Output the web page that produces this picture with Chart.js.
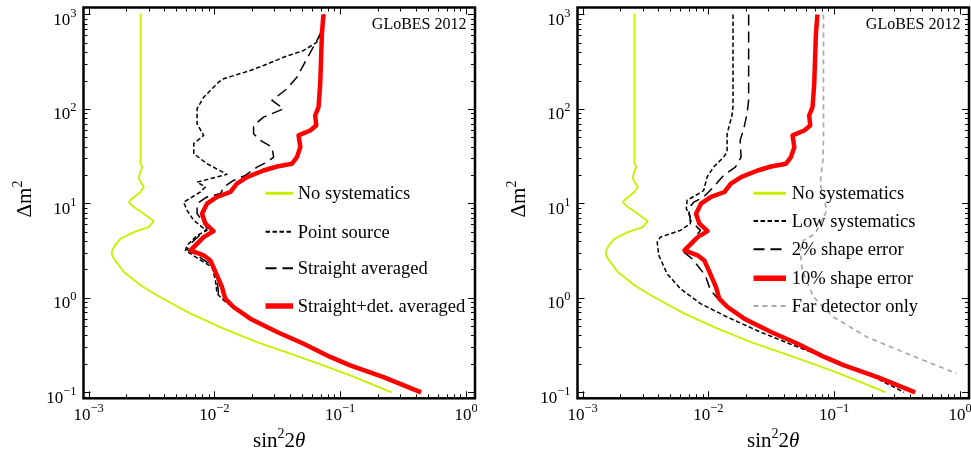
<!DOCTYPE html>
<html>
<head>
<meta charset="utf-8">
<script src="https://cdn.jsdelivr.net/npm/chart.js@4.4.0/dist/chart.umd.min.js"></script>
<style>
  html, body { margin: 0; padding: 0; background: #fff; }
  #wrap { position: relative; width: 971px; height: 454px; overflow: hidden; }
  canvas { position: absolute; top: 0; }
</style>
</head>
<body>
<div id="wrap">
  <canvas id="leftChart" width="477" height="454" style="left:0"></canvas>
  <canvas id="rightChart" width="477" height="454" style="left:494px"></canvas>
</div>
<script>
// --- data (Δm² values with matching sin²2θ values) ---
const noSysDm2 = [1000, 26.5, 24.2, 20.6, 18.2, 14.9, 13.2, 10.8, 10.3, 9.14, 7.78, 6.49, 5.61, 4.97, 4.23, 3.6, 3.18, 2.9, 2.60, 1.88, 1.36, 1.06, 0.681, 0.472, 0.340, 0.257, 0.193, 0.151, 0.1];
const noSysSin2 = [0.00259, 0.00259, 0.00267, 0.00255, 0.00251, 0.00275, 0.00259, 0.00215, 0.00209, 0.00229, 0.00275, 0.0033, 0.00301, 0.00229, 0.0018, 0.00162, 0.00154, 0.00153, 0.00159, 0.00191, 0.00259, 0.00351, 0.00646, 0.01186, 0.0218, 0.0401, 0.0736, 0.12, 0.257];

const redDm2 = [1000, 625, 185, 104.5, 85.3, 66.9, 59.2, 52.5, 39.4, 30.9, 26.3, 24.6, 22.3, 19.0, 16.2, 13.2, 11.7, 9.93, 7.78, 6.10, 5.09, 4.40, 3.18, 2.82, 2.49, 1.88, 1.30, 0.98, 0.80, 0.602, 0.435, 0.327, 0.237, 0.193, 0.145, 0.1];
const redSin2 = [0.0736, 0.0716, 0.0694, 0.0673, 0.0633, 0.0645, 0.0578, 0.0467, 0.0482, 0.0453, 0.0414, 0.0315, 0.0246, 0.0182, 0.0151, 0.0134, 0.0105, 0.00874, 0.00798, 0.00849, 0.00986, 0.00822, 0.00646, 0.00822, 0.00929, 0.0102, 0.0115, 0.0122, 0.0142, 0.0193, 0.0315, 0.0512, 0.0834, 0.12, 0.221, 0.44];

const pointDm2 = [1000, 678, 509, 416, 353, 288, 255, 209, 192, 133, 100.5, 69.7, 52.5, 42.9, 33.6, 26.3, 20.3, 16.8, 14.9, 13.2, 10.3, 8.44, 6.61, 5.61, 5.18, 4.58, 3.60, 3.18, 2.94, 2.39, 2.12, 1.53, 1.11, 0.942, 0.738, 0.627, 0.435, 0.327, 0.237, 0.193, 0.145, 0.1];
const pointSin2 = [0.0755, 0.0716, 0.0653, 0.0512, 0.0355, 0.0246, 0.0193, 0.01186, 0.0108, 0.00822, 0.00729, 0.00729, 0.00822, 0.00686, 0.00686, 0.00874, 0.0126, 0.00729, 0.00849, 0.00774, 0.0057, 0.00607, 0.00686, 0.00798, 0.00874, 0.00729, 0.00607, 0.00589, 0.00646, 0.00822, 0.0096, 0.0102, 0.0105, 0.01186, 0.0151, 0.0187, 0.031, 0.0505, 0.082, 0.118, 0.218, 0.435];

const straightDm2 = [1000, 625, 531, 340, 217, 164, 123, 100.5, 81.9, 66.8, 54.6, 46.5, 39.4, 30.9, 27.4, 24.2, 19.8, 17.5, 14.9, 12.7, 11.7, 9.93, 7.78, 6.34, 5.40, 3.75, 3.24, 2.82, 2.39, 2.04, 1.53, 1.11, 0.904, 0.708, 0.602, 0.435, 0.327, 0.237, 0.193, 0.145, 0.1];
const straightSin2 = [0.0745, 0.0694, 0.0653, 0.0544, 0.0453, 0.0378, 0.0287, 0.0355, 0.0246, 0.0205, 0.0205, 0.0232, 0.0287, 0.0296, 0.0262, 0.0218, 0.0176, 0.0142, 0.01186, 0.0112, 0.00874, 0.00729, 0.00729, 0.00822, 0.00874, 0.00646, 0.00607, 0.00729, 0.00874, 0.0102, 0.0105, 0.0108, 0.0126, 0.0161, 0.019, 0.031, 0.051, 0.083, 0.119, 0.22, 0.44];

const lowDm2 = [1000, 104.5, 85.3, 54.6, 34.9, 30.9, 24.2, 19.0, 13.7, 12.7, 10.8, 8.79, 7.16, 6.10, 5.18, 4.40, 3.89, 2.82, 1.80, 1.25, 0.869, 0.627, 0.435, 0.314, 0.218, 0.158, 0.1];
const lowSin2 = [0.0157, 0.0157, 0.0154, 0.0141, 0.0141, 0.0132, 0.011, 0.00977, 0.00918, 0.00838, 0.00678, 0.00668, 0.00719, 0.00719, 0.006, 0.00416, 0.00392, 0.00404, 0.0047, 0.006, 0.00865, 0.0141, 0.0259, 0.0475, 0.0986, 0.182, 0.36];

const shapeDm2 = [1000, 123, 88.9, 61.7, 46.5, 30.9, 24.2, 19.8, 14.9, 11.7, 10.3, 8.79, 6.61, 5.18, 3.05, 2.60, 2.12, 1.73, 1.20, 0.98, 0.80, 0.602, 0.435, 0.327, 0.237, 0.193, 0.145, 0.1];
const shapeSin2 = [0.0209, 0.0209, 0.0203, 0.0191, 0.0179, 0.0182, 0.0164, 0.0132, 0.011, 0.00918, 0.00764, 0.00698, 0.00719, 0.00865, 0.00637, 0.00741, 0.00838, 0.00946, 0.0104, 0.0119, 0.0139, 0.019, 0.031, 0.0505, 0.082, 0.118, 0.215, 0.43];

const farDm2 = [1000, 46.5, 28.5, 16.1, 8.44, 4.78, 4.06, 3.18, 1.95, 1.02, 0.627, 0.385, 0.257, 0.158];
const farSin2 = [0.0822, 0.0822, 0.0813, 0.0774, 0.0875, 0.0706, 0.057, 0.0537, 0.0557, 0.0686, 0.0986, 0.182, 0.378, 0.942];

// axis decades (tick labels are 10^n)
const xDecades = [-3, -2, -1, 0];
const yDecades = [-1, 0, 1, 2, 3];
const xRange = [9.12e-4, 1.179];
const yRange = [0.0864, 1186];

const GREEN = "#c6f000";
const RED = "#ff0000";
const GRAY = "#a9a9a9";
const SERIF = '"Liberation Serif", "Times New Roman", serif';

function pts(sin2, dm2) {
    return sin2.map((v, i) => ({ x: v, y: dm2[i] }));
}

function expText(n) {
    return n < 0 ? "\u2212" + Math.abs(n) : String(n);
}

// "10" with a raised exponent
function drawPow(ctx, x, y, n, align) {
    ctx.font = "17px " + SERIF;
    const wBase = ctx.measureText("10").width;
    ctx.font = "12.5px " + SERIF;
    const e = expText(n);
    const wExp = ctx.measureText(e).width;
    const total = wBase + wExp;
    const x0 = align === "right" ? x - total : x - total / 2;
    ctx.textAlign = "left";
    ctx.textBaseline = "alphabetic";
    ctx.font = "17px " + SERIF;
    ctx.fillText("10", x0, y);
    ctx.font = "12.5px " + SERIF;
    ctx.fillText(e, x0 + wBase, y - 8);
}

const framePlugin = {
    id: "frameAxes",
    afterDatasetsDraw(chart) {
        const { ctx, chartArea: a, scales } = chart;
        const sx = scales.x, sy = scales.y;
        ctx.save();
        ctx.strokeStyle = "#000";
        ctx.fillStyle = "#000";
        ctx.lineWidth = 1;

        // ticks on all four sides, pointing inward
        ctx.beginPath();
        for (let d = xDecades[0] - 1; d <= xDecades[xDecades.length - 1]; d++) {
            for (let k = 1; k <= 9; k++) {
                const v = k * Math.pow(10, d);
                if (v < sx.min || v > sx.max) continue;
                const p = Math.round(sx.getPixelForValue(v)) + 0.5;
                const len = k === 1 ? 7 : 4;
                ctx.moveTo(p, a.bottom); ctx.lineTo(p, a.bottom - len);
                ctx.moveTo(p, a.top); ctx.lineTo(p, a.top + len);
            }
        }
        for (let d = yDecades[0] - 1; d <= yDecades[yDecades.length - 1]; d++) {
            for (let k = 1; k <= 9; k++) {
                const v = k * Math.pow(10, d);
                if (v < sy.min || v > sy.max) continue;
                const p = Math.round(sy.getPixelForValue(v)) + 0.5;
                const len = k === 1 ? 7 : 4;
                ctx.moveTo(a.left, p); ctx.lineTo(a.left + len, p);
                ctx.moveTo(a.right, p); ctx.lineTo(a.right - len, p);
            }
        }
        ctx.stroke();

        ctx.lineWidth = 2.5;
        ctx.strokeRect(a.left, a.top, a.right - a.left, a.bottom - a.top);

        // tick labels
        xDecades.forEach(n => drawPow(ctx, sx.getPixelForValue(Math.pow(10, n)), a.bottom + 22, n, "center"));
        yDecades.forEach(n => drawPow(ctx, a.left - 7, sy.getPixelForValue(Math.pow(10, n)) + 10.5, n, "right"));

        // x title: sin²2θ
        const big = "21px " + SERIF, small = "14px " + SERIF, ital = "italic 21px " + SERIF;
        ctx.font = big; const w1 = ctx.measureText("sin").width;
        ctx.font = small; const w2 = ctx.measureText("2").width;
        ctx.font = big; const w3 = ctx.measureText("2").width;
        ctx.font = ital; const w4 = ctx.measureText("\u03b8").width;
        let tx = (a.left + a.right) / 2 - (w1 + w2 + w3 + w4) / 2;
        const ty = 447;
        ctx.textAlign = "left";
        ctx.font = big; ctx.fillText("sin", tx, ty); tx += w1;
        ctx.font = small; ctx.fillText("2", tx, ty - 9); tx += w2;
        ctx.font = big; ctx.fillText("2", tx, ty); tx += w3;
        ctx.font = ital; ctx.fillText("\u03b8", tx, ty);

        // y title: Δm²
        ctx.save();
        ctx.translate(31, 199);
        ctx.rotate(-Math.PI / 2);
        ctx.font = big; const v1 = ctx.measureText("\u0394m").width;
        ctx.font = small; const v2 = ctx.measureText("2").width;
        const vx = -(v1 + v2) / 2;
        ctx.font = big; ctx.fillText("\u0394m", vx, 0);
        ctx.font = small; ctx.fillText("2", vx + v1, -9);
        ctx.restore();

        // stamp
        ctx.font = "16px " + SERIF;
        ctx.textAlign = "right";
        ctx.fillText("GLoBES 2012", a.right - 8.5, a.top + 21.5);

        // legend (sample lines are drawn a bit heavier than the curves)
        const lg = chart.options.plugins.sideLegend;
        ctx.font = "18.5px " + SERIF;
        ctx.textAlign = "left";
        chart.data.datasets.forEach((ds, i) => {
            const ry = lg.rows[i];
            ctx.save();
            ctx.strokeStyle = ds.borderColor;
            ctx.lineWidth = ds.borderWidth > 3 ? 5.5 : (ds.borderColor === GREEN ? 3 : 2);
            ctx.setLineDash(ds.borderDash || []);
            ctx.beginPath();
            ctx.moveTo(lg.x0, ry);
            ctx.lineTo(lg.x1, ry);
            ctx.stroke();
            ctx.restore();
            ctx.fillStyle = "#000";
            ctx.fillText(ds.label, lg.textX, ry + 6);
        });
        ctx.restore();
    },
};

function line(label, sin2, dm2, color, width, dash, order) {
    return {
        label: label,
        data: pts(sin2, dm2),
        borderColor: color,
        borderWidth: width,
        borderDash: dash,
        borderJoinStyle: "round",
        showLine: true,
        pointRadius: 0,
        fill: false,
        tension: 0,
        order: order,
    };
}

function makeChart(id, datasets, legend) {
    return new Chart(document.getElementById(id).getContext("2d"), {
        type: "scatter",
        data: { datasets: datasets },
        options: {
            responsive: false,
            animation: false,
            devicePixelRatio: 1,
            events: [],
            layout: { padding: { left: 83.5, right: 2, top: 7.5, bottom: 55.7 } },
            scales: {
                x: { type: "logarithmic", min: xRange[0], max: xRange[1], display: false },
                y: { type: "logarithmic", min: yRange[0], max: yRange[1], display: false },
            },
            plugins: {
                legend: { display: false },
                tooltip: { enabled: false },
                sideLegend: legend,
            },
        },
        plugins: [framePlugin],
    });
}

const leftChart = makeChart("leftChart", [
    line("No systematics", noSysSin2, noSysDm2, GREEN, 1.8, [], 3),
    line("Point source", pointSin2, pointDm2, "#000", 1.5, [4.5, 2.5], 2),
    line("Straight averaged", straightSin2, straightDm2, "#000", 1.5, [11, 6], 1),
    line("Straight+det. averaged", redSin2, redDm2, RED, 4.5, [], 0),
], { x0: 265.5, x1: 293, textX: 297.7, rows: [193.3, 231.7, 268.3, 306] });

const rightChart = makeChart("rightChart", [
    line("No systematics", noSysSin2, noSysDm2, GREEN, 1.8, [], 3),
    line("Low systematics", lowSin2, lowDm2, "#000", 1.5, [4.5, 2.5], 2),
    line("2% shape error", shapeSin2, shapeDm2, "#000", 1.5, [11, 6], 1),
    line("10% shape error", redSin2, redDm2, RED, 4.5, [], 0),
    line("Far detector only", farSin2, farDm2, GRAY, 1.7, [5, 4], 4),
], { x0: 259.5, x1: 292, textX: 297.7, rows: [193.3, 221, 249.3, 278.3, 306] });
</script>
</body>
</html>
